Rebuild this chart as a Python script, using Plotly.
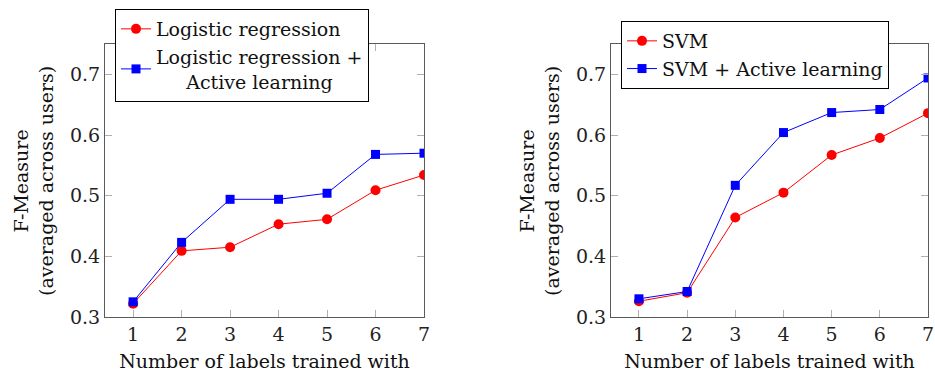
import plotly.graph_objects as go

# ---- data ----
labels_x = [1, 2, 3, 4, 5, 6, 7]
lr = [0.322, 0.409, 0.415, 0.453, 0.461, 0.509, 0.534]
lr_al = [0.325, 0.423, 0.494, 0.494, 0.504, 0.568, 0.570]
svm = [0.326, 0.340, 0.464, 0.505, 0.567, 0.595, 0.636]
svm_al = [0.330, 0.342, 0.517, 0.604, 0.637, 0.642, 0.694]
y_ticks = [0.3, 0.4, 0.5, 0.6, 0.7]
y_tick_text = ["0.3", "0.4", "0.5", "0.6", "0.7"]

W, H = 935, 372
FONT = "DejaVu Serif"
RED = "#ff0000"
BLUE = "#0000ff"

fig = go.Figure()

def add_series(x, y, name, color, symbol, size, xa, ya, legend):
    fig.add_trace(go.Scatter(
        x=x, y=y, name=name, mode="lines+markers",
        line=dict(color=color, width=1),
        marker=dict(color=color, symbol=symbol, size=size, line=dict(width=0)),
        xaxis=xa, yaxis=ya, legend=legend,
    ))

add_series(labels_x, lr, "Logistic regression", RED, "circle", 10, "x", "y", "legend")
add_series(labels_x, lr_al, "Logistic regression +<br>&nbsp;&nbsp;&nbsp;&nbsp;&nbsp;Active learning",
           BLUE, "square", 9, "x", "y", "legend")
add_series(labels_x, svm, "SVM", RED, "circle", 10, "x2", "y2", "legend2")
add_series(labels_x, svm_al, "SVM + Active learning", BLUE, "square", 9, "x2", "y2", "legend2")

ydom = [(H - 317) / H, (H - 44) / H]
xdom1 = [105 / W, 424 / W]
xdom2 = [611 / W, 928 / W]

axis_common = dict(
    showline=True, linecolor="#5a5a5a", linewidth=1, mirror="ticks",
    ticks="inside", ticklen=7, tickwidth=1, tickcolor="#b0b0b0",
    showgrid=False, zeroline=False, automargin=False,
    tickfont=dict(family=FONT, size=19, color="#222"),
)

xa = dict(axis_common, range=[0.42, 7], tickvals=labels_x,
          title=dict(text="Number of labels trained with",
                     font=dict(family=FONT, size=19, color="#111"), standoff=10))
ya = dict(axis_common, range=[0.3, 0.75], tickvals=y_ticks, ticktext=y_tick_text)

fig.update_layout(
    width=W, height=H,
    margin=dict(l=0, r=0, t=0, b=0, autoexpand=False),
    paper_bgcolor="white", plot_bgcolor="white",
    showlegend=True,
    xaxis=dict(xa, domain=xdom1, anchor="y"),
    yaxis=dict(ya, domain=ydom, anchor="x"),
    xaxis2=dict(xa, domain=xdom2, anchor="y2"),
    yaxis2=dict(ya, domain=ydom, anchor="x2"),
    legend=dict(x=115 / W, y=(H - 9) / H, xanchor="left", yanchor="top",
                bgcolor="white", bordercolor="black", borderwidth=1,
                font=dict(family=FONT, size=19, color="#111"),
                tracegroupgap=0, itemwidth=30),
    legend2=dict(x=621 / W, y=(H - 21) / H, xanchor="left", yanchor="top",
                 bgcolor="white", bordercolor="black", borderwidth=1,
                 font=dict(family=FONT, size=19, color="#111"),
                 tracegroupgap=0, itemwidth=30),
    annotations=[
        dict(text="F-Measure<br>(averaged across users)", textangle=-90,
             x=33 / W, y=(H - 181) / H, xref="paper", yref="paper",
             xanchor="center", yanchor="middle", showarrow=False,
             font=dict(family=FONT, size=19, color="#111")),
        dict(text="F-Measure<br>(averaged across users)", textangle=-90,
             x=539 / W, y=(H - 181) / H, xref="paper", yref="paper",
             xanchor="center", yanchor="middle", showarrow=False,
             font=dict(family=FONT, size=19, color="#111")),
    ],
)

fig.write_html("out.html")
